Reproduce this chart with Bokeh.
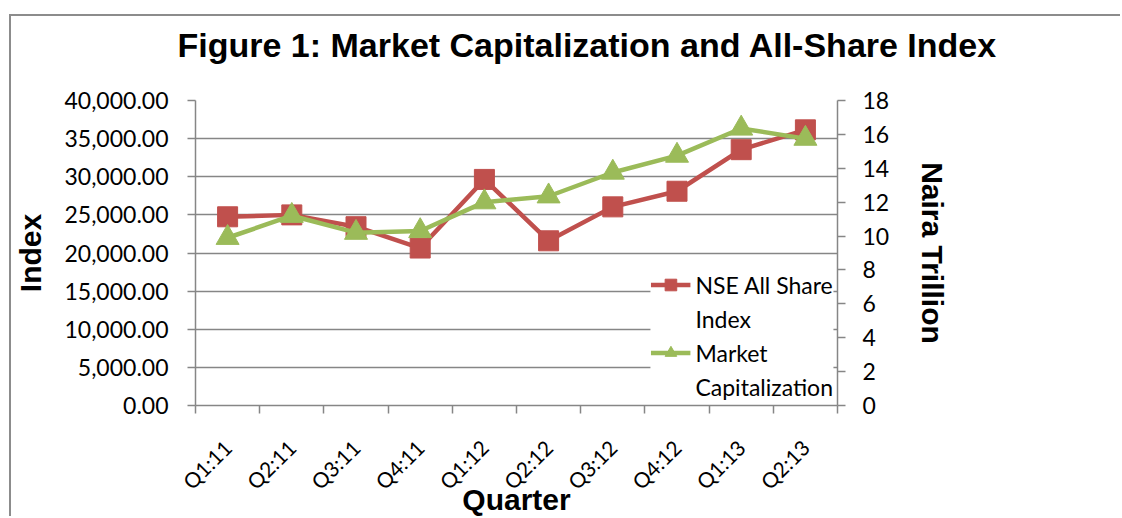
import math
from bokeh.plotting import figure
from bokeh.models import (Range1d, LinearAxis, NumeralTickFormatter,
                          FixedTicker, Legend, LegendItem, Grid, Title)
from bokeh.embed import file_html
from bokeh.resources import INLINE

quarters = ["Q1:11", "Q2:11", "Q3:11", "Q4:11", "Q1:12", "Q2:12", "Q3:12", "Q4:12", "Q1:13", "Q2:13"]
nse_index = [24750, 25000, 23450, 20650, 29650, 21600, 26050, 28100, 33550, 36150]
market_cap = [9.9, 11.2, 10.2, 10.3, 12.0, 12.35, 13.75, 14.75, 16.35, 15.75]
left_ticks = [0, 5000, 10000, 15000, 20000, 25000, 30000, 35000, 40000]
right_ticks = [0, 2, 4, 6, 8, 10, 12, 14, 16, 18]

# category centres and boundaries on a numeric axis (category i occupies [i, i+1])
x_pos = [i + 0.5 for i in range(len(quarters))]
x_bounds = list(range(len(quarters) + 1))

RED = "#C0504D"
GREEN = "#9BBB59"
GRAY = "#868686"
TICK_FONT = "Lato"
BOLD_FONT = "Liberation Sans"

p = figure(width=1111, height=502, x_range=Range1d(0, len(quarters)), y_range=Range1d(0, 40000),
           output_backend="svg", toolbar_location=None,
           x_axis_location=None, y_axis_location=None,
           min_border_left=184, min_border_right=285, min_border_top=84, min_border_bottom=111)
p.styles = {"position": "relative", "left": "9px", "top": "14px",
            "border-top": "2px solid #8c8c8c", "border-left": "2px solid #8c8c8c"}
p.extra_y_ranges = {"cap": Range1d(0, 18)}
p.outline_line_color = None
p.background_fill_color = "white"
p.title.text = ""
for g in list(p.grid):
    g.visible = False

# spacer above the frame, then the chart title
p.add_layout(Title(text=" ", text_font_size="1px", standoff=34), "above")
p.add_layout(Title(text="Figure 1: Market Capitalization and All-Share Index", align="left", offset=-18,
                   standoff=0, text_font=BOLD_FONT, text_font_style="bold", text_font_size="34px",
                   text_color="black"), "above")

left_axis = LinearAxis(ticker=FixedTicker(ticks=left_ticks), formatter=NumeralTickFormatter(format="0,0.00"),
                       axis_label="Index", axis_label_text_font=BOLD_FONT, axis_label_text_font_style="bold",
                       axis_label_text_font_size="30px", axis_label_standoff=14, axis_label_text_color="black",
                       major_label_text_font=TICK_FONT, major_label_text_font_size="23px",
                       major_label_text_color="black",
                       major_label_standoff=19, major_tick_out=8, major_tick_in=0,
                       minor_tick_line_color=None, axis_line_color=GRAY, major_tick_line_color=GRAY,
                       axis_line_width=1.5, major_tick_line_width=1.5)
p.add_layout(left_axis, "left")

right_axis = LinearAxis(y_range_name="cap", ticker=FixedTicker(ticks=right_ticks),
                        axis_label="Naira Trillion", axis_label_text_font=BOLD_FONT,
                        axis_label_text_font_style="bold", axis_label_text_font_size="30px",
                        axis_label_standoff=24, axis_label_text_color="black",
                        major_label_text_font=TICK_FONT, major_label_text_font_size="23px",
                        major_label_text_color="black",
                        major_label_standoff=17, major_tick_out=8, major_tick_in=0,
                        minor_tick_line_color=None, axis_line_color=GRAY, major_tick_line_color=GRAY,
                        axis_line_width=1.5, major_tick_line_width=1.5)
p.add_layout(right_axis, "right")

# labels at category centres, tick marks at category boundaries (minor ticks)
x_axis = LinearAxis(ticker=FixedTicker(ticks=x_pos, minor_ticks=x_bounds),
                    major_label_overrides={x: q for x, q in zip(x_pos, quarters)},
                    axis_line_color=GRAY, axis_line_width=1.5,
                    major_tick_line_color=None, major_tick_out=8, major_tick_in=0,
                    minor_tick_line_color=GRAY, minor_tick_line_width=1.5, minor_tick_out=8, minor_tick_in=0,
                    major_label_orientation=math.pi / 4, major_label_standoff=30,
                    major_label_text_font=TICK_FONT, major_label_text_font_size="21px",
                    major_label_text_color="black",
                    axis_label="Quarter", axis_label_text_font=BOLD_FONT, axis_label_text_font_style="bold",
                    axis_label_text_font_size="30px", axis_label_standoff=-23, axis_label_text_color="black")
p.add_layout(x_axis, "below")

p.add_layout(Grid(dimension=1, ticker=left_axis.ticker, grid_line_color=GRAY, grid_line_width=1.5))

r_line = p.line(x_pos, nse_index, line_color=RED, line_width=4.5)
r_mark = p.scatter(x_pos, nse_index, marker="square", size=20, fill_color=RED, line_color=RED)
g_line = p.line(x_pos, market_cap, line_color=GREEN, line_width=4.5, y_range_name="cap")
g_mark = p.scatter(x_pos, market_cap, marker="triangle", size=23, fill_color=GREEN, line_color=GREEN,
                   y_range_name="cap")
blank = p.line([], [], line_alpha=0)

legend = Legend(items=[LegendItem(label="NSE All Share", renderers=[r_line, r_mark]),
                       LegendItem(label="Index", renderers=[blank]),
                       LegendItem(label="Market", renderers=[g_line, g_mark]),
                       LegendItem(label="Capitalization", renderers=[blank])],
                location="bottom_right", orientation="vertical",
                padding=6, margin=4,
                border_line_color=None, background_fill_color="white", background_fill_alpha=1.0,
                glyph_width=40, glyph_height=29, label_height=29, label_standoff=5, spacing=5,
                label_text_font=TICK_FONT, label_text_font_size="23px", label_text_color="black")
p.add_layout(legend, "center")

open("out.html", "w").write(file_html(p, INLINE))
